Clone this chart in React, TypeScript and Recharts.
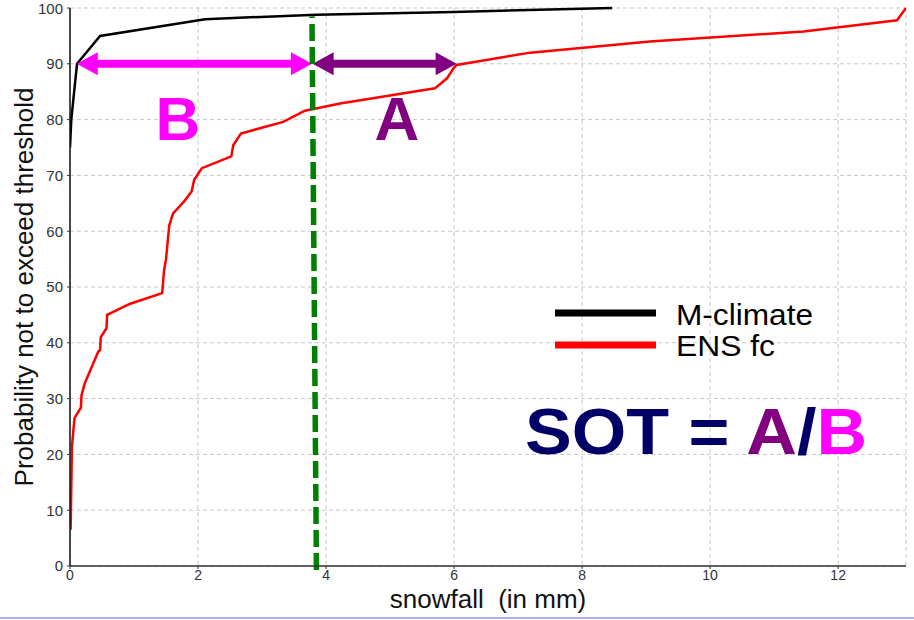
import { LineChart, Line, XAxis, YAxis, CartesianGrid, ReferenceLine } from "recharts";

// M-climate cumulative distribution (snowfall in mm vs probability %)
const climateSnow = [0, 0.02, 0.11, 0.47, 2.11, 3.85, 6.0, 8.47];
const climateProb = [75, 80, 90, 95, 98, 98.8, 99.3, 100];

// ENS forecast cumulative distribution
const ensSnow = [
  0.01, 0.02, 0.03, 0.07, 0.17, 0.18, 0.23, 0.44, 0.47, 0.48, 0.57, 0.58, 0.94, 1.44, 1.47, 1.5,
  1.55, 1.61, 1.78, 1.9, 1.94, 2.06, 2.52, 2.55, 2.67, 3.33, 3.67, 4.22, 5.7, 5.89, 5.99, 6.04,
  7.19, 9.06, 11.46, 12.92, 13.06,
];
const ensProb = [
  6.5, 14, 21.4, 26.5, 28.4, 30.6, 32.7, 38.4, 38.7, 41.0, 42.6, 45.0, 47.0, 48.9, 53, 55,
  61, 63.2, 65.3, 67.1, 69.2, 71.3, 73.4, 75.4, 77.5, 79.6, 81.6, 82.9, 85.6, 87.4, 89.2, 89.8,
  92.0, 94.0, 95.8, 97.8, 100,
];

const xTicks = [0, 2, 4, 6, 8, 10, 12];
const yTicks = [0, 10, 20, 30, 40, 50, 60, 70, 80, 90, 100];

// threshold marker (slightly slanted, as drawn) and the A / B spans at the 90% level
const thresholdLine = [
  { x: 3.85, y: -0.7 },
  { x: 3.78, y: 98.5 },
];
const spanLevel = 90;
const spanB = [0.105, 3.78];
const spanA = [3.79, 6.04];

const climateData = climateSnow.map((x, i) => ({ x, p: climateProb[i] }));
const ensData = ensSnow.map((x, i) => ({ x, p: ensProb[i] }));

const FONT = "'Liberation Sans', Arial, Helvetica, sans-serif";

const makeArrow = (color: string) => (props: any) => {
  const { x1, y1, x2, y2 } = props;
  const head = 21;
  const half = 11.5;
  const left = Math.min(x1, x2);
  const right = Math.max(x1, x2);
  const y = (y1 + y2) / 2;
  return (
    <g>
      <line x1={left + head - 2} y1={y} x2={right - head + 2} y2={y} stroke={color} strokeWidth={8} />
      <polygon points={`${left},${y} ${left + head},${y - half} ${left + head},${y + half}`} fill={color} />
      <polygon points={`${right},${y} ${right - head},${y - half} ${right - head},${y + half}`} fill={color} />
    </g>
  );
};

const XTitle = (props: any) => {
  const { x, width } = props.viewBox;
  return (
    <text
      x={x + width / 2}
      y={608}
      textAnchor="middle"
      fontSize={26}
      fontFamily={FONT}
      fill="#111"
      style={{ whiteSpace: "pre" }}
    >
      {"snowfall  (in mm)"}
    </text>
  );
};

const YTitle = (props: any) => {
  const { y, height } = props.viewBox;
  const cy = y + height / 2;
  return (
    <text
      x={33}
      y={cy}
      transform={`rotate(-90, 33, ${cy})`}
      textAnchor="middle"
      fontSize={26}
      fontFamily={FONT}
      fill="#111"
    >
      Probability not to exceed threshold
    </text>
  );
};

const tickStyle = { fontSize: 15, fill: "#333", fontFamily: FONT };
const xTickStyle = { fontSize: 14, fill: "#333", fontFamily: FONT };

export default function App() {
  return (
    <div style={{ position: "fixed", left: 0, top: 0, width: 914, height: 620, background: "#fff", fontFamily: FONT }}>
      <LineChart width={914} height={620} margin={{ top: 8, right: 8, bottom: 0, left: 0 }}>
        <CartesianGrid stroke="#c8c8c8" strokeDasharray="4 3" />
        <XAxis
          dataKey="x"
          type="number"
          domain={[0, 13.06]}
          ticks={xTicks}
          allowDataOverflow
          height={54}
          tick={xTickStyle}
          tickSize={3}
          tickMargin={1}
          axisLine={{ stroke: "#333", strokeWidth: 1.5 }}
          tickLine={{ stroke: "#333" }}
          label={<XTitle />}
        />
        <XAxis
          xAxisId="top"
          orientation="top"
          type="number"
          domain={[0, 13.06]}
          height={0}
          tick={false}
          tickLine={false}
          axisLine={{ stroke: "#333", strokeWidth: 1.5 }}
        />
        <YAxis
          type="number"
          domain={[0, 100]}
          ticks={yTicks}
          width={70}
          tick={tickStyle}
          tickSize={3}
          tickMargin={4}
          axisLine={{ stroke: "#111", strokeWidth: 1.5 }}
          tickLine={{ stroke: "#333" }}
          label={<YTitle />}
        />
        <YAxis
          yAxisId="right"
          orientation="right"
          type="number"
          domain={[0, 100]}
          width={0}
          tick={false}
          tickLine={false}
          axisLine={{ stroke: "#333", strokeWidth: 1.5 }}
        />
        <Line
          data={climateData}
          dataKey="p"
          type="linear"
          stroke="#000"
          strokeWidth={2.5}
          dot={false}
          isAnimationActive={false}
        />
        <Line
          data={ensData}
          dataKey="p"
          type="linear"
          stroke="#ff0000"
          strokeWidth={2.5}
          dot={false}
          isAnimationActive={false}
        />
        <ReferenceLine
          segment={[
            { x: spanB[0], y: spanLevel },
            { x: spanB[1], y: spanLevel },
          ]}
          shape={makeArrow("#ff00ff")}
          ifOverflow="visible"
        />
        <ReferenceLine
          segment={[
            { x: spanA[0], y: spanLevel },
            { x: spanA[1], y: spanLevel },
          ]}
          shape={makeArrow("#800080")}
          ifOverflow="visible"
        />
        <ReferenceLine
          segment={thresholdLine}
          stroke="#008000"
          strokeWidth={5.5}
          strokeDasharray="17 6"
          ifOverflow="visible"
        />
      </LineChart>

      {/* annotations, legend and the SOT formula */}
      <svg width={914} height={620} style={{ position: "absolute", left: 0, top: 0, pointerEvents: "none" }}>
        <text x={178} y={140} textAnchor="middle" fontSize={62} fontWeight="bold" fontFamily={FONT} fill="#ff00ff">
          B
        </text>
        <text x={397} y={139.5} textAnchor="middle" fontSize={62} fontWeight="bold" fontFamily={FONT} fill="#800080">
          A
        </text>

        <line x1={555} y1={313} x2={656} y2={313} stroke="#000" strokeWidth={7} />
        <line x1={555} y1={345} x2={656} y2={345} stroke="#ff0000" strokeWidth={7} />
        <text x={676} y={325} fontSize={30} fontFamily={FONT} fill="#000" textLength={137} lengthAdjust="spacingAndGlyphs">
          M-climate
        </text>
        <text x={676} y={356} fontSize={30} fontFamily={FONT} fill="#000" textLength={99} lengthAdjust="spacingAndGlyphs">
          ENS fc
        </text>

        <text
          x={525}
          y={454}
          fontSize={64}
          fontWeight="bold"
          fontFamily={FONT}
          textLength={342}
          lengthAdjust="spacingAndGlyphs"
          fill="#000066"
        >
          SOT = <tspan fill="#800080">A</tspan>
          <tspan fill="#000066">/</tspan>
          <tspan fill="#ff00ff">B</tspan>
        </text>
      </svg>

      <div style={{ position: "absolute", left: 0, top: 617, width: 914, height: 2, background: "#aab0f0" }} />
    </div>
  );
}
